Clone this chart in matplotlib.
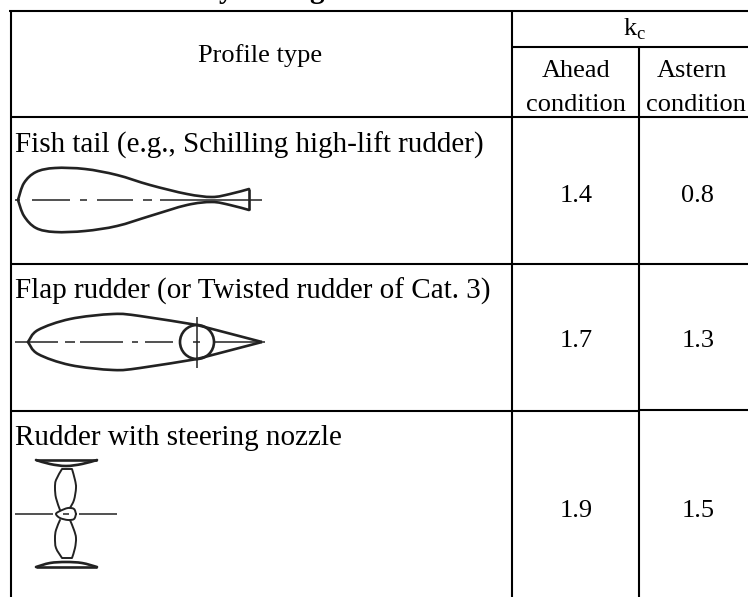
import matplotlib
matplotlib.use('Agg')
import matplotlib.pyplot as plt
import numpy as np
from matplotlib.patches import Circle, PathPatch
from matplotlib.path import Path

W, H = 748, 597

profile_header = 'Profile type'
kc_label = 'k$_{\\mathregular{c}}$'
ahead_head = ['Ahead', 'condition']
astern_head = ['Astern', 'condition']
profiles = ['Fish tail (e.g., Schilling high-lift rudder)',
            'Flap rudder (or Twisted rudder of Cat. 3)',
            'Rudder with steering nozzle']
ahead = ['1.4', '1.7', '1.9']
astern = ['0.8', '1.3', '1.5']

# outlines of the sketches, in pixels
fish_upper = [(18, 200), (24, 183), (36, 172), (55, 168), (85, 169), (117, 175),
              (150, 185), (187, 194), (212, 197), (230, 194), (249, 189)]
fish_lower = [(249, 210), (230, 205), (212, 202), (187, 205), (150, 216), (117, 226),
              (85, 231), (55, 232), (36, 228), (24, 216), (18, 200)]
flap_upper = [(28, 342), (38, 330), (70, 319), (113, 314), (140, 316), (197, 325)]
flap_lower = [(197, 359), (140, 368), (113, 370), (70, 365), (38, 354), (28, 342)]
blade_left = [(62, 469), (56, 480), (55, 488), (56, 498), (60, 510)]
blade_right = [(72, 469), (75, 480), (76, 488), (74, 500), (70, 508)]
blade_left_low = [(60, 520), (56, 530), (55, 538), (56, 548), (62, 558)]
blade_right_low = [(70, 520), (74, 530), (76, 538), (75, 548), (72, 558)]
hub = [(76, 514), (74, 509), (68, 508), (60, 511), (56, 514), (60, 518), (68, 520), (74, 519), (76, 514)]
nozzle_top = [(36, 460), (50, 464), (66, 466), (82, 464), (97, 460)]
nozzle_bot = [(36, 567), (50, 563), (66, 562), (82, 563), (97, 567)]

plt.rcParams['font.family'] = ['Liberation Serif', 'DejaVu Serif']

fig = plt.figure(figsize=(W/100, H/100), dpi=100)
ax = fig.add_axes([0, 0, 1, 1])
ax.set_xlim(0, W)
ax.set_ylim(H, 0)
ax.axis('off')

def rule(xs, ys):
    ax.plot(xs, ys, color='black', lw=1.5, solid_capstyle='butt')

def smooth(pts, lw=1.9):
    # catmull-rom through the points
    p = np.array(pts, dtype=float)
    p = np.vstack([p[0], p, p[-1]])
    verts = [p[1]]
    for i in range(1, len(p) - 2):
        verts.append(p[i] + (p[i+1] - p[i-1]) / 6)
        verts.append(p[i+1] - (p[i+2] - p[i]) / 6)
        verts.append(p[i+1])
    codes = [Path.MOVETO] + [Path.CURVE4] * (len(verts) - 1)
    ax.add_patch(PathPatch(Path(verts, codes), fill=False, lw=lw, ec='#222222', capstyle='round'))

def thin(xs, ys, lw=1.1):
    ax.plot(xs, ys, color='#222222', lw=lw, solid_capstyle='butt')

# table rules
rule([9, W], [11, 11])
rule([512, W], [47, 47])
rule([10, W], [117, 117])
rule([10, W], [264, 264])
rule([10, 639], [411, 411])
rule([639, W], [410, 410])
rule([11, 11], [11, H])
rule([512, 512], [11, H])
rule([639, 639], [47, H])

# bits of the cut off title
ax.text(226, -2, 'y', fontsize=21, fontweight='bold', ha='center', va='baseline')
ax.text(317, -2, 'g', fontsize=21, fontweight='bold', ha='center', va='baseline')

# header
fs = 19
ax.text(260, 62, profile_header, fontsize=fs, ha='center', va='baseline')
ax.text(635, 36, kc_label, fontsize=fs, ha='center', va='baseline')
ax.text(576, 77, ahead_head[0], fontsize=fs, ha='center', va='baseline')
ax.text(576, 111, ahead_head[1], fontsize=fs, ha='center', va='baseline')
ax.text(692, 77, astern_head[0], fontsize=fs, ha='center', va='baseline')
ax.text(696, 111, astern_head[1], fontsize=fs, ha='center', va='baseline')

# rows
text_y = [153, 299, 445]
val_y = [202, 347, 517]
for i in range(3):
    ax.text(15, text_y[i], profiles[i], fontsize=21, ha='left', va='baseline')
    ax.text(576, val_y[i], ahead[i], fontsize=fs, ha='center', va='baseline')
    ax.text(698, val_y[i], astern[i], fontsize=fs, ha='center', va='baseline')

# fish tail sketch
smooth(fish_upper)
smooth(fish_lower)
thin([249, 249], [189, 210], lw=1.9)
for x0, x1 in [(15, 20), (32, 70), (80, 87), (97, 133), (143, 152), (160, 262)]:
    thin([x0, x1], [200, 200])

# flap rudder sketch
smooth(flap_upper)
smooth(flap_lower)
thin([197, 262], [325, 342], lw=1.9)
thin([197, 262], [359, 342], lw=1.9)
ax.add_patch(Circle((197, 342), 17, fill=False, lw=1.9, ec='#222222'))
thin([197, 197], [317, 368])
for x0, x1 in [(15, 58), (65, 75), (80, 123), (132, 138), (145, 173), (193, 200), (213, 265)]:
    thin([x0, x1], [342, 342])

# nozzle sketch
smooth(nozzle_top)
smooth(nozzle_bot)
thin([36, 97], [460, 460], lw=1.9)
thin([36, 97], [567, 567], lw=1.9)
smooth(blade_left, lw=1.4)
smooth(blade_right, lw=1.4)
smooth(blade_left_low, lw=1.4)
smooth(blade_right_low, lw=1.4)
thin([62, 72], [469, 469], lw=1.4)
thin([62, 72], [558, 558], lw=1.4)
smooth(hub, lw=1.4)
thin([15, 53], [514, 514])
thin([79, 117], [514, 514])
thin([63, 69], [514, 514])

fig.savefig('out.png', dpi=100)
